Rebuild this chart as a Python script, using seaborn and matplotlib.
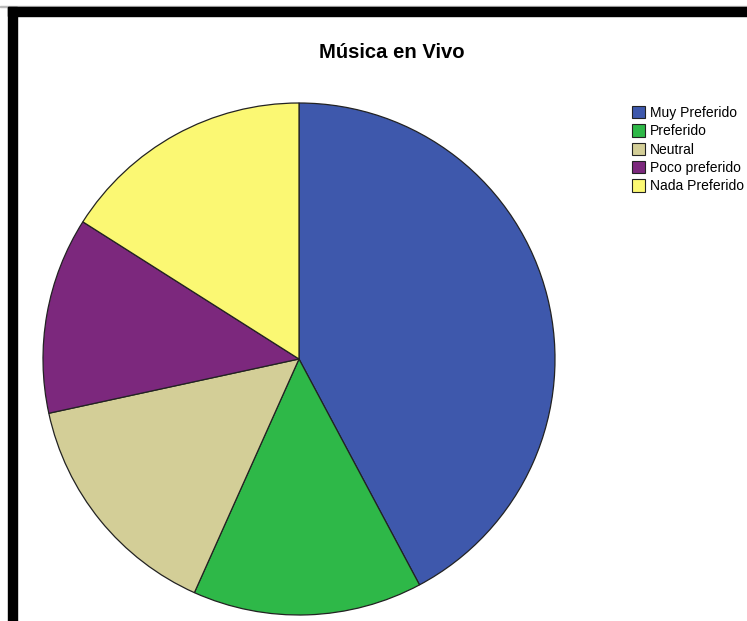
import matplotlib
matplotlib.use("Agg")
import matplotlib.pyplot as plt
import seaborn as sns
from matplotlib.patches import Rectangle

categories = ["Muy Preferido", "Preferido", "Neutral", "Poco preferido", "Nada Preferido"]
percents = [42.2, 14.5, 14.9, 12.4, 16.0]
colors = ["#3E58AC", "#2EB848", "#D3CE97", "#7C287D", "#FBF873"]
title = "Música en Vivo"

sns.set_theme(style="white")
plt.rcParams['font.family'] = ['Liberation Sans', 'DejaVu Sans']

W, H = 747, 621
fig = plt.figure(figsize=(W / 100, H / 100), dpi=100)
fig.patch.set_facecolor("white")

cx, cy, r = 299, 359, 256
ax = fig.add_axes([(cx - r) / W, (H - cy - r) / H, 2 * r / W, 2 * r / H])
palette = sns.color_palette(colors)
wedges, _ = ax.pie(percents, colors=palette, startangle=90, counterclock=False,
                   wedgeprops=dict(edgecolor="#222222", linewidth=0.9), radius=1.0)
ax.set_xlim(-1, 1)
ax.set_ylim(-1, 1)
ax.set_aspect("equal")
ax.axis("off")

fig.text(391.5 / W, 1 - 58 / H, title, ha="center", va="baseline", fontsize=14.6,
         fontweight="bold", color="black")

leg = fig.legend(wedges, categories, loc="upper left", bbox_to_anchor=(631.5 / W, 1 - 106 / H),
                 frameon=False, fontsize=10, handlelength=1.0, handleheight=1.0,
                 handletextpad=0.3, labelspacing=0.31, borderaxespad=0, borderpad=0)
for h in leg.legend_handles:
    h.set_edgecolor("#222222")
    h.set_linewidth(0.8)
for t in leg.get_texts():
    t.set_color("black")

# frame bands (top and left)
fig.patches.append(Rectangle((0, 1 - 7 / H), 1, 1 / H, transform=fig.transFigure, color="#bbbbbb", zorder=0))
fig.patches.append(Rectangle((8 / W, 1 - 15.5 / H), 1, 8.5 / H, transform=fig.transFigure, color="black", zorder=5))
fig.patches.append(Rectangle((8 / W, 0), 8.5 / W, 1 - 7 / H, transform=fig.transFigure, color="black", zorder=5))

fig.savefig("out.png", dpi=100, facecolor="white")
